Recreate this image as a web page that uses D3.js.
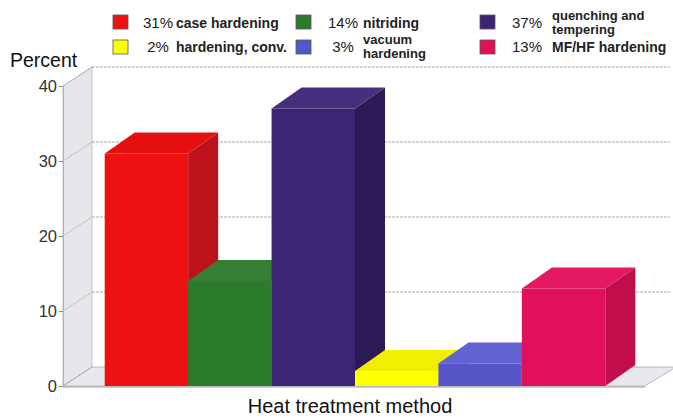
<!DOCTYPE html>
<html><head><meta charset="utf-8">
<script src="https://cdn.jsdelivr.net/npm/d3@7"></script>
<style>body{margin:0;background:#fff}svg{display:block}</style>
</head><body>
<svg id="c" width="673" height="418"></svg>
<script>
const categories = ["case hardening","nitriding","quenching and tempering","hardening, conv.","vacuum hardening","MF/HF hardening"];
const values = [31,14,37,2,3,13];
const frontColors = ["#ee1111","#2c7a2c","#3c2572","#ffff00","#5656c8","#e0115a"];
const sideColors  = ["#bb121c","#20601f","#2b1a55","#d8d400","#4444a8","#c20d4c"];
const topColors   = ["#e41010","#357f35","#452f7e","#f2ee00","#6262d0","#e31a62"];
const yTicks = [0,10,20,30,40];
const legendLabels = [["case hardening"],["nitriding"],["quenching and","tempering"],["hardening, conv."],["vacuum","hardening"],["MF/HF hardening"]];

const svg = d3.select("#c");
const WDX = 29, WDY = 19, BDX = 30, BDY = 21;
const x = d3.scaleBand().domain(categories).range([63,647]).paddingInner(0).paddingOuter(0.5);
const y = d3.scaleLinear().domain([0,40]).range([386,86]);
const bw = x.bandwidth();
const y0 = y(0), yTop = y(40);
const xL = 63, xR = 645;

// left wall
svg.append("polygon")
  .attr("points",[[xL,y0],[xL,yTop],[xL+WDX,yTop-WDY],[xL+WDX,y0-WDY]].join(" "))
  .attr("fill","#e6e6ec").attr("stroke","#b8b8c0").attr("stroke-width",0.8);
// floor
svg.append("polygon")
  .attr("points",[[xL,y0],[xL+WDX,y0-WDY],[xR+WDX+2,y0-WDY],[xR,y0]].join(" "))
  .attr("fill","#e8e8ee").attr("stroke","#a8a8b0").attr("stroke-width",0.8);
// back wall gridlines
svg.append("g").selectAll("line").data(yTicks.filter(d=>d>0)).join("line")
  .attr("x1",xL+WDX).attr("x2",xR+WDX-4)
  .attr("y1",d=>y(d)-WDY).attr("y2",d=>y(d)-WDY)
  .attr("stroke","#a0a0a8").attr("stroke-width",0.9).attr("stroke-dasharray","3,1");
// left wall diagonal gridlines
svg.append("g").selectAll("line").data(yTicks).join("line")
  .attr("x1",xL).attr("x2",xL+WDX)
  .attr("y1",d=>y(d)).attr("y2",d=>y(d)-WDY)
  .attr("stroke","#a0a0a8").attr("stroke-width",0.8).attr("stroke-dasharray","2,1");
svg.append("line").attr("x1",xL).attr("x2",xR).attr("y1",y0+1).attr("y2",y0+1)
  .attr("stroke","#999").attr("stroke-width",1);

// bars
const bars = svg.append("g");
categories.forEach((c,i)=>{
  const x0 = x(c), x1 = x0+bw, yv = y(values[i]);
  const g = bars.append("g");
  g.append("polygon").attr("points",[[x1,yv],[x1+BDX,yv-BDY],[x1+BDX,y0-BDY],[x1,y0]].join(" "))
    .attr("fill",sideColors[i]);
  g.append("polygon").attr("points",[[x0,yv],[x0+BDX,yv-BDY],[x1+BDX,yv-BDY],[x1,yv]].join(" "))
    .attr("fill",topColors[i]);
  g.append("rect").attr("x",x0).attr("y",yv).attr("width",bw).attr("height",y0-yv)
    .attr("fill",frontColors[i]);
});

// y axis
const ax = svg.append("g").attr("transform",`translate(${xL},0)`)
  .call(d3.axisLeft(y).tickValues(yTicks).tickSize(4).tickPadding(2));
ax.select(".domain").attr("stroke","#b0b0b8");
ax.selectAll(".tick line").attr("stroke","#888");
ax.selectAll("text").attr("font-family","Liberation Sans, Arial, sans-serif").attr("font-size",16.5).attr("fill","#333");

// titles
svg.append("text").attr("x",10).attr("y",67).text("Percent")
  .attr("font-family","Liberation Sans, Arial, sans-serif").attr("font-size",19.5).attr("fill","#111");
svg.append("text").attr("x",350).attr("y",413).attr("text-anchor","middle").text("Heat treatment method")
  .attr("font-family","Liberation Sans, Arial, sans-serif").attr("font-size",20).attr("fill","#111");

// legend
const colSq = [113,296,480], colPct = [158,343,527], colLab = [176,363,552];
const rowSq = [15,40], rowBase = [28,52];
const legendOrder = [[0,3],[1,4],[2,5]];
const lg = svg.append("g").attr("font-family","Liberation Sans, Arial, sans-serif").attr("fill","#222");
legendOrder.forEach((col,ci)=>{
  col.forEach((idx,ri)=>{
    lg.append("rect").attr("x",colSq[ci]).attr("y",rowSq[ri]).attr("width",15).attr("height",14)
      .attr("fill",frontColors[idx]).attr("stroke","#555").attr("stroke-width",0.8);
    lg.append("text").attr("x",colPct[ci]).attr("y",rowBase[ri]).attr("text-anchor","middle")
      .attr("font-size",15).text(values[idx]+"%");
    const lines = legendLabels[idx];
    const t = lg.append("text").attr("font-weight","bold");
    if(lines.length===1){
      t.attr("font-size",14);
      t.append("tspan").attr("x",colLab[ci]).attr("y",rowBase[ri]).text(lines[0]);
    } else {
      t.attr("font-size",13);
      lines.forEach((s,k)=>t.append("tspan").attr("x",colLab[ci]).attr("y",rowBase[ri]-8.5+k*14.5).text(s));
    }
  });
});
</script>
</body></html>
